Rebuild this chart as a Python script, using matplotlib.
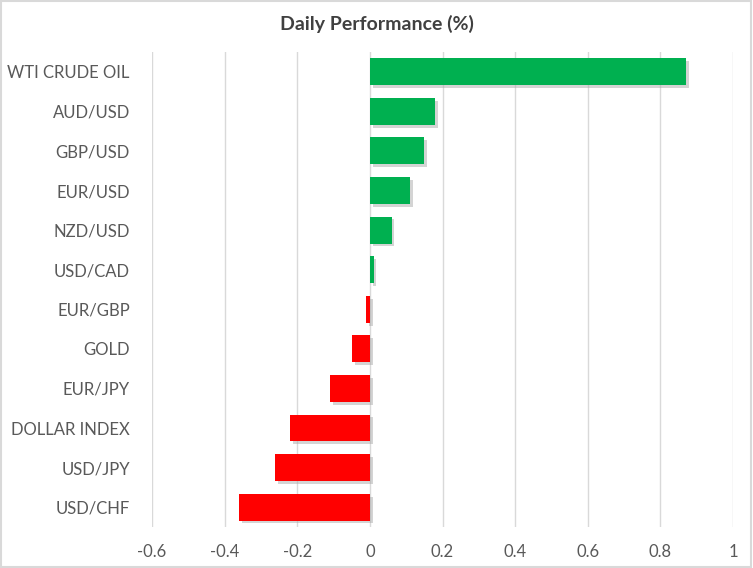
import matplotlib
matplotlib.use('Agg')
import matplotlib.pyplot as plt
import matplotlib.patheffects as pe
from matplotlib.patches import Rectangle

# datos
labels = ['WTI CRUDE OIL', 'AUD/USD', 'GBP/USD', 'EUR/USD', 'NZD/USD', 'USD/CAD',
          'EUR/GBP', 'GOLD', 'EUR/JPY', 'DOLLAR INDEX', 'USD/JPY', 'USD/CHF']
values = [0.87, 0.18, 0.15, 0.11, 0.06, 0.01, -0.01, -0.05, -0.11, -0.22, -0.26, -0.36]
ticks = [-0.6, -0.4, -0.2, 0, 0.2, 0.4, 0.6, 0.8, 1]
tick_labels = ['-0.6', '-0.4', '-0.2', '0', '0.2', '0.4', '0.6', '0.8', '1']

plt.rcParams['font.family'] = ['Lato', 'DejaVu Sans']

fig = plt.figure(figsize=(7.53, 5.68), dpi=100)
ax = fig.add_axes([0.2019, 0.0722, 0.7715, 0.8363])

colors = ['#00b050' if v >= 0 else '#ff0000' for v in values]
pos = list(range(len(labels)))
bars = ax.barh(pos, values, height=0.68, color=colors, zorder=3)
for b in bars:
    b.set_path_effects([pe.SimplePatchShadow(offset=(2, -2), shadow_rgbFace='#aaaaaa', alpha=0.5), pe.Normal()])

ax.set_ylim(len(labels) - 0.5, -0.5)
ax.set_xlim(-0.6, 1)
ax.set_xticks(ticks)
ax.set_xticklabels(tick_labels)
ax.set_yticks(pos)
ax.set_yticklabels(labels)
ax.grid(axis='x', color='#d9d9d9', linewidth=1, zorder=0)
for s in ax.spines.values():
    s.set_visible(False)
ax.tick_params(axis='both', length=0, labelsize=12, colors='#595959')
ax.tick_params(axis='x', pad=12)
ax.tick_params(axis='y', pad=16)

fig.text(0.5, 0.958, 'Daily Performance (%)', ha='center', va='center',
         fontsize=14, fontweight='bold', color='#404040')

fig.patches.append(Rectangle((0.001, 0.001), 0.997, 0.997, transform=fig.transFigure,
                             fill=False, edgecolor='#d9d9d9', linewidth=1.5))

fig.savefig('out.png', dpi=100)
